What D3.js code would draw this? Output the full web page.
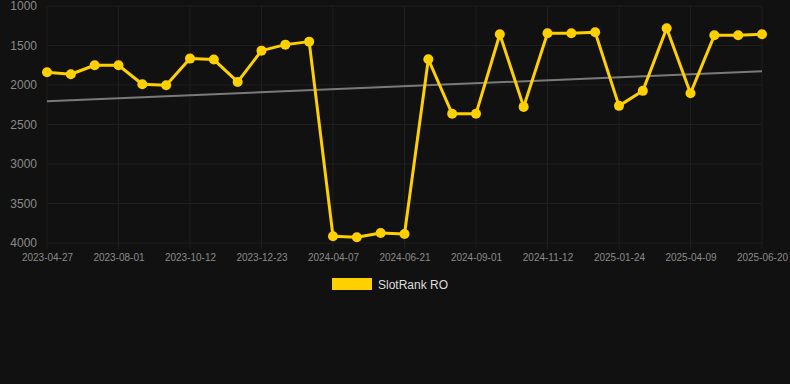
<!DOCTYPE html>
<html>
<head>
<meta charset="utf-8">
<script src="https://cdn.jsdelivr.net/npm/d3@7"></script>
<style>
  html, body { margin: 0; padding: 0; background: #111111; }
  #chart { width: 790px; height: 384px; }
</style>
</head>
<body>
<div id="chart"></div>
<script>
// dates of each rank snapshot (only every third one is labelled on the axis)
var dates = [
    '2023-04-27', '2023-05-29', '2023-06-30', '2023-08-01', '2023-08-25', '2023-09-18',
    '2023-10-12', '2023-11-05', '2023-11-29', '2023-12-23', '2024-01-27', '2024-03-02',
    '2024-04-07', '2024-05-02', '2024-05-27', '2024-06-21', '2024-07-15', '2024-08-08',
    '2024-09-01', '2024-09-25', '2024-10-19', '2024-11-12', '2024-12-06', '2024-12-30',
    '2025-01-24', '2025-02-17', '2025-03-15', '2025-04-09', '2025-05-03', '2025-05-27',
    '2025-06-20'
];
var rankRO = [
    1838, 1864, 1750, 1750, 1990, 2003, 1666, 1678, 1961, 1565, 1489, 1451,
    3915, 3928, 3873, 3886, 1674, 2365, 2365, 1358, 2277, 1345, 1345, 1333,
    2264, 2074, 1282, 2104, 1371, 1371, 1358
];
var yTicks = [1000, 1500, 2000, 2500, 3000, 3500, 4000];
var seriesName = 'SlotRank RO';
var lineColor = '#FFD000';

drawRank('chart');

function drawRank(divName) {
    var svgwidth = 790, svgheight = 384;
    var _margin = {top: 6, left: 47, right: 28, bottom: 141};
    var _svg = d3.select('#' + divName)
        .append('svg')
        .attr('width', svgwidth)
        .attr('height', svgheight)
        .style('font-family', 'Arial, "Liberation Sans", sans-serif');
    _svg.append('rect').attr('width', svgwidth).attr('height', svgheight).attr('fill', '#111111');

    var w = svgwidth - _margin.left - _margin.right;
    var h = svgheight - _margin.top - _margin.bottom;
    var g = _svg.append('g').attr('transform', 'translate(' + _margin.left + ',' + _margin.top + ')');

    var x = d3.scalePoint().domain(dates).range([0, w]);
    // rank: smaller is better, so 1000 sits on top
    var y = d3.scaleLinear().domain([1000, 4000]).range([0, h]);

    var labelled = dates.filter(function (d, i) { return i % 3 === 0; });

    // grid
    g.append('g').selectAll('line').data(yTicks).enter().append('line')
        .attr('x1', 0).attr('x2', w)
        .attr('y1', function (d) { return y(d); }).attr('y2', function (d) { return y(d); })
        .attr('stroke', '#1f1f1f').attr('stroke-width', 1);
    g.append('g').selectAll('line').data(labelled).enter().append('line')
        .attr('x1', function (d) { return x(d); }).attr('x2', function (d) { return x(d); })
        .attr('y1', 0).attr('y2', h + 6)
        .attr('stroke', '#1f1f1f').attr('stroke-width', 1);

    // axes
    var yAxis = g.append('g').call(d3.axisLeft(y).tickValues(yTicks).tickSize(0).tickPadding(10).tickFormat(d3.format('d')));
    yAxis.select('.domain').remove();
    yAxis.selectAll('text').attr('fill', '#8a8a8a').style('font-size', '12px');

    var xAxis = g.append('g').attr('transform', 'translate(0,' + h + ')')
        .call(d3.axisBottom(x).tickValues(labelled).tickSize(0).tickPadding(11));
    xAxis.select('.domain').remove();
    xAxis.selectAll('text').attr('fill', '#8a8a8a').style('font-size', '10px');

    // least squares trend
    var n = rankRO.length, mx = (n - 1) / 2, my = d3.mean(rankRO);
    var sxy = d3.sum(rankRO, function (v, i) { return (i - mx) * (v - my); });
    var sxx = d3.sum(rankRO, function (v, i) { return (i - mx) * (i - mx); });
    var slope = sxy / sxx, icpt = my - slope * mx;
    g.append('line')
        .attr('x1', x(dates[0])).attr('y1', y(icpt))
        .attr('x2', x(dates[n - 1])).attr('y2', y(icpt + slope * (n - 1)))
        .attr('stroke', '#7a7a7a').attr('stroke-width', 2);

    var line = d3.line()
        .x(function (d, i) { return x(dates[i]); })
        .y(function (d) { return y(d); });
    g.append('path').datum(rankRO)
        .attr('d', line)
        .attr('fill', 'none')
        .attr('stroke', lineColor)
        .attr('stroke-width', 3)
        .attr('stroke-linejoin', 'round');
    g.append('g').selectAll('circle').data(rankRO).enter().append('circle')
        .attr('cx', function (d, i) { return x(dates[i]); })
        .attr('cy', function (d) { return y(d); })
        .attr('r', 5)
        .attr('fill', lineColor);

    // legend
    var lg = _svg.append('g').attr('transform', 'translate(332,278)');
    lg.append('rect').attr('width', 40).attr('height', 12).attr('fill', lineColor);
    lg.append('text').attr('x', 46).attr('y', 10.5)
        .attr('fill', '#dddddd').style('font-size', '12px')
        .text(seriesName);
}
</script>
</body>
</html>
